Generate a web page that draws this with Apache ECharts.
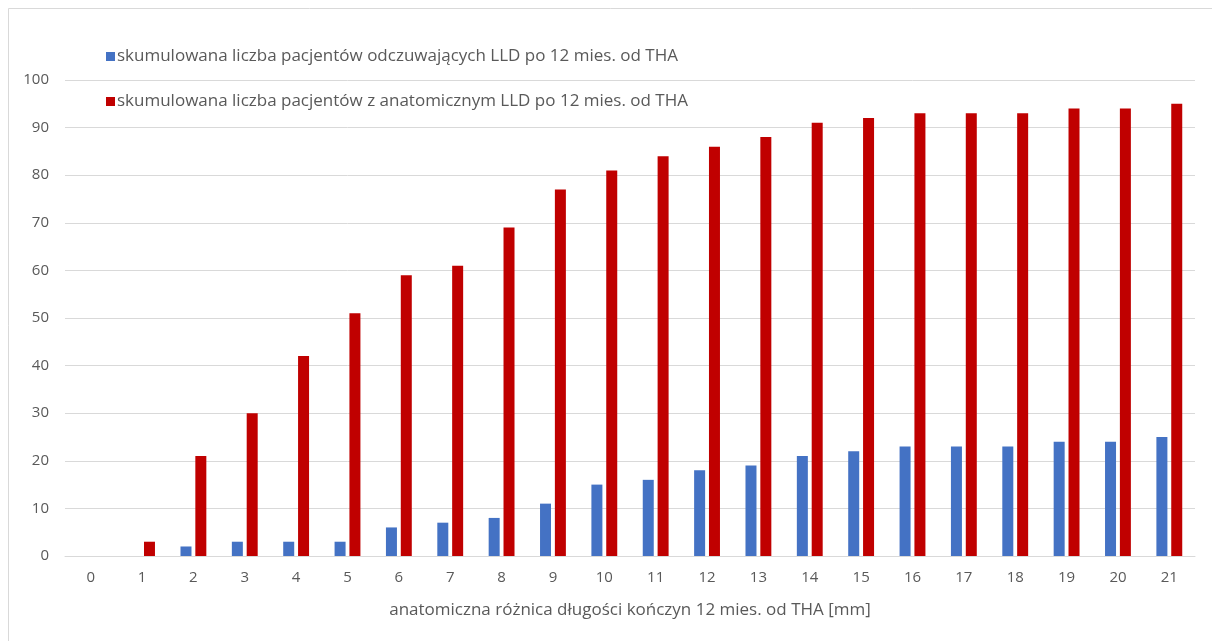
<!DOCTYPE html>
<html>
<head>
<meta charset="utf-8">
<script src="https://cdn.jsdelivr.net/npm/echarts@6/dist/echarts.min.js"></script>
<style>
  html, body { margin: 0; padding: 0; background: #fff; }
  #chart { width: 1212px; height: 641px; }
</style>
</head>
<body>
<div id="chart"></div>
<script>
// Limb-length difference [mm] at 12 months after THA
const categories = ['0','1','2','3','4','5','6','7','8','9','10','11','12','13','14','15','16','17','18','19','20','21'];
// cumulative number of patients perceiving LLD
const perceived = [0, 0, 2, 3, 3, 3, 6, 7, 8, 11, 15, 16, 18, 19, 21, 22, 23, 23, 23, 24, 24, 25];
// cumulative number of patients with anatomical LLD
const anatomical = [0, 3, 21, 30, 42, 51, 59, 61, 69, 77, 81, 84, 86, 88, 91, 92, 93, 93, 93, 94, 94, 95];

const seriesNames = [
  'skumulowana liczba pacjentów odczuwających LLD po 12 mies. od THA',
  'skumulowana liczba pacjentów z anatomicznym LLD po 12 mies. od THA'
];
const xAxisTitle = 'anatomiczna różnica długości kończyn 12 mies. od THA [mm]';

const FONT = '"Open Sans"';
const TXT = '#595959';

const chart = echarts.init(document.getElementById('chart'), null, { renderer: 'canvas' });
chart.setOption({
  animation: false,
  backgroundColor: '#fff',
  graphic: [{
    type: 'rect',
    shape: { x: 8.5, y: 8.5, width: 1300, height: 700 },
    style: { fill: 'none', stroke: '#d9d9d9', lineWidth: 1 },
    silent: true
  }],
  legend: [{
    data: [seriesNames[0]],
    left: 101, top: 43,
    itemWidth: 9, itemHeight: 9, icon: 'rect',
    textStyle: { fontFamily: FONT, fontSize: 17, color: TXT, padding: [0, 0, 0, -3] }
  }, {
    data: [seriesNames[1]],
    left: 101, top: 88,
    itemWidth: 9, itemHeight: 9, icon: 'rect',
    textStyle: { fontFamily: FONT, fontSize: 17, color: TXT, padding: [0, 0, 0, -3] }
  }],
  grid: { left: 65, right: 17, top: 80, bottom: 85, containLabel: false },
  xAxis: {
    type: 'category',
    data: categories,
    axisLine: { lineStyle: { color: '#d9d9d9', width: 1 } },
    axisTick: { show: false },
    axisLabel: { fontFamily: FONT, fontSize: 15, color: TXT, margin: 14 },
    name: xAxisTitle,
    nameLocation: 'middle',
    nameGap: 46,
    nameTextStyle: { fontFamily: FONT, fontSize: 17, color: TXT }
  },
  yAxis: {
    type: 'value',
    min: 0, max: 100, interval: 10,
    axisLine: { show: false },
    axisTick: { show: false },
    splitLine: { lineStyle: { color: '#d9d9d9', width: 1 } },
    axisLabel: { fontFamily: FONT, fontSize: 15, color: TXT, margin: 16 }
  },
  series: [{
    name: seriesNames[0],
    type: 'bar',
    data: perceived,
    barWidth: 11,
    barGap: '35%',
    itemStyle: { color: '#4472c4' }
  }, {
    name: seriesNames[1],
    type: 'bar',
    data: anatomical,
    barWidth: 11,
    itemStyle: { color: '#c00000' }
  }]
});
</script>
</body>
</html>
